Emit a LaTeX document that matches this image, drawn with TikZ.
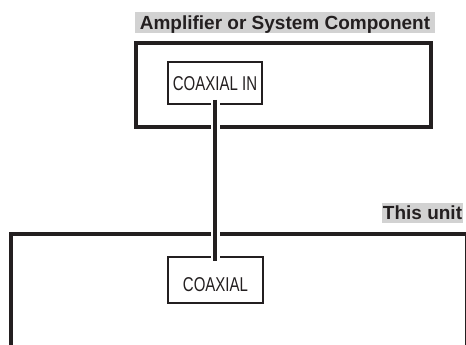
\documentclass[tikz,border=0pt]{standalone}
\usepackage{fontspec}
\setmainfont{Liberation Sans}
\newfontfamily\narrowfont{Liberation Sans}[FakeStretch=0.75]
\definecolor{ink}{RGB}{35,31,32}
\definecolor{labelgray}{RGB}{210,210,210}
\tikzset{
  bigbox/.style={draw=ink, line width=4pt, inner sep=0pt},
  jackbox/.style={draw=ink, line width=1.6pt, inner sep=0pt, fill=white,
    font=\narrowfont\fontsize{20pt}{20pt}\selectfont, text=ink, text depth=0pt},
  tag/.style={fill=labelgray, inner sep=0pt, text depth=0pt, text height=13.6pt,
    font=\bfseries\fontsize{19pt}{19pt}\selectfont, text=ink},
  halo/.style={white, line width=9pt},
  cable/.style={ink, line width=3.2pt}
}
\begin{document}
\begin{tikzpicture}[x=1pt,y=-1pt]
\useasboundingbox (0,0) rectangle (466,345);
\clip (0,0) rectangle (466,345);
% labels
\node[tag, minimum width=300pt, minimum height=21pt] (amptag) at (285,22.5) {Amplifier or System Component};
\node[tag, minimum width=81pt, minimum height=20pt] (unittag) at (422.5,213) {This unit};
% enclosures
\node[bigbox, minimum width=295pt, minimum height=84pt] (amp) at (283.5,85) {};
\node[bigbox, minimum width=456.5pt, minimum height=140pt] (unit) at (238.75,304) {};
% jacks
\node[jackbox, minimum width=94pt, minimum height=42pt, text height=14.3pt] (coaxin) at (215,83) {COAXIAL IN};
\node[jackbox, minimum width=95pt, minimum height=46pt, text height=22pt] (coax) at (215.5,280) {COAXIAL};
% cable
\coordinate (c1) at ([yshift=5pt]coaxin.south);
\coordinate (c2) at ([yshift=-5pt]coax.north -| coaxin.south);
\draw[halo] (c1) -- (c2);
\draw[cable] (c1) -- (c2);
\end{tikzpicture}
\end{document}
